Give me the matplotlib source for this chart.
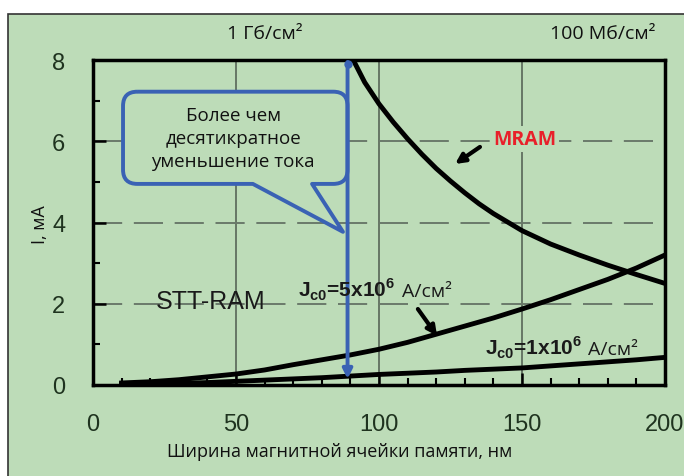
import matplotlib
matplotlib.use('Agg')
import matplotlib.pyplot as plt
from matplotlib.patches import Rectangle, PathPatch
from matplotlib.path import Path

# cell width, nm
width_mram = [91, 95, 100, 105, 110, 115, 120, 125, 130, 135, 140, 150, 160, 170, 180, 190, 200]
current_mram = [8.0, 7.45, 6.92, 6.47, 6.06, 5.68, 5.33, 5.02, 4.73, 4.46, 4.22, 3.8,
                3.47, 3.2, 2.95, 2.72, 2.5]

width_stt = [10, 20, 30, 40, 50, 60, 70, 80, 90, 100, 110, 120, 130, 140, 150, 160, 170, 180, 190, 200]
current_stt5 = [0.05, 0.08, 0.13, 0.2, 0.27, 0.37, 0.5, 0.62, 0.74, 0.88, 1.05, 1.25,
                1.45, 1.65, 1.87, 2.1, 2.35, 2.6, 2.88, 3.2]
current_stt1 = [0.02, 0.03, 0.04, 0.06, 0.09, 0.12, 0.15, 0.18, 0.22, 0.26, 0.29, 0.32,
                0.36, 0.39, 0.42, 0.47, 0.52, 0.57, 0.62, 0.68]

x_ticks = [0, 50, 100, 150, 200]
y_ticks = [0, 2, 4, 6, 8]
marker_x = 89

green = '#bddcb8'
blue = '#3a62b4'
label_color = '#1f331f'
ru_font = ['Open Sans', 'DejaVu Sans']
num_font = ['Liberation Sans Narrow', 'Liberation Sans', 'DejaVu Sans']

fig = plt.figure(figsize=(6.84, 4.77), dpi=100)
fig.patch.set_facecolor('white')
fig.patches.append(Rectangle((8 / 684, -0.01), 680 / 684, 1 - 15 / 477 + 0.01,
                             transform=fig.transFigure, facecolor=green,
                             edgecolor='#333333', lw=1.2, zorder=-10))

ax = fig.add_axes([93 / 684, 91 / 477, 572 / 684, 325 / 477])
ax.set_facecolor(green)

for v in [50, 100, 150]:
    ax.axvline(v, color='#5f6f5f', lw=1.3, zorder=1)
for h in [2, 4, 6]:
    ax.axhline(h, color='#6a7a6a', lw=1.4, dashes=(15, 6), zorder=1)

ax.plot(width_mram, current_mram, color='black', lw=3.5, zorder=3)
ax.plot(width_stt, current_stt5, color='black', lw=3.5, zorder=3)
ax.plot(width_stt, current_stt1, color='black', lw=3.5, zorder=3)

ax.set_xlim(0, 200)
ax.set_ylim(0, 8)
ax.set_xticks(x_ticks)
ax.set_yticks(y_ticks)
ax.set_xticks(range(10, 200, 10), minor=True)
ax.set_yticks([1, 3, 5, 7], minor=True)
ax.tick_params(which='major', direction='in', length=9, width=1.8, color='black',
               labelsize=17, labelcolor=label_color)
ax.tick_params(which='minor', direction='in', length=5, width=1.5, color='black')
ax.tick_params(axis='x', pad=20)
ax.tick_params(axis='y', pad=20)
for lab in ax.get_xticklabels() + ax.get_yticklabels():
    lab.set_family(num_font)
for sp in ax.spines.values():
    sp.set_linewidth(2.5)

ax.set_xlabel('Ширина магнитной ячейки памяти, нм', family=ru_font, fontsize=13,
              color='#111111')
ax.xaxis.set_label_coords((340 - 93) / 572, -(452 - 386) / 325)
ax.xaxis.label.set_va('center')
ax.set_ylabel('I, мА', family=ru_font, fontsize=13, color='#111111')
ax.yaxis.set_label_coords(-(93 - 40) / 572, (386 - 225) / 325)
ax.yaxis.label.set_va('center')

fig.text(265 / 684, 1 - 34 / 477, '1 Гб/см²', family=ru_font, fontsize=14,
         ha='center', va='center', color='#111111')
fig.text(603 / 684, 1 - 34 / 477, '100 Мб/см²', family=ru_font, fontsize=14,
         ha='center', va='center', color='#111111')

# speech bubble
x0, x1, y0, y1 = 10.5, marker_x, 4.95, 7.22
rx, ry = 5.0, 0.35
verts = [(x0 + rx, y1), (x1 - rx, y1), (x1, y1), (x1, y1 - ry), (x1, y0 + ry),
         (x1, y0), (x1 - rx, y0), (76.6, y0), (87.4, 3.77), (55.9, y0),
         (x0 + rx, y0), (x0, y0), (x0, y0 + ry), (x0, y1 - ry), (x0, y1), (x0 + rx, y1)]
codes = [Path.MOVETO, Path.LINETO, Path.CURVE3, Path.CURVE3, Path.LINETO,
         Path.CURVE3, Path.CURVE3, Path.LINETO, Path.LINETO, Path.LINETO,
         Path.LINETO, Path.CURVE3, Path.CURVE3, Path.LINETO, Path.CURVE3, Path.CURVE3]
ax.add_patch(PathPatch(Path(verts, codes), facecolor=green, edgecolor=blue, lw=2.8,
                       zorder=4, joinstyle='round'))
ax.text(49, 6.08, 'Более чем\nдесятикратное\nуменьшение тока', family=ru_font,
        fontsize=13.5, ha='center', va='center', linespacing=1.35, color='#111111', zorder=5)

ax.annotate('', xy=(marker_x, 0.15), xytext=(marker_x, 7.95),
            arrowprops=dict(arrowstyle='-|>', color=blue, lw=2.8, mutation_scale=14,
                            shrinkA=0, shrinkB=0), zorder=6)
ax.plot([marker_x], [7.9], 'o', color=blue, ms=5, zorder=6)

ax.text(41, 2.07, 'STT-RAM', family='Liberation Sans', fontsize=18, ha='center',
        va='center', color='#1a1a1a', zorder=5)
ax.text(71.7, 2.19, r'J$_{\mathregular{c0}}$=5x10$^{\mathregular{6}}$', family='Liberation Sans',
        fontsize=15, fontweight='bold', ha='left', va='baseline', color='#1a1a1a', zorder=7)
ax.text(108, 2.19, 'А/см²', family=ru_font, fontsize=14, ha='left', va='baseline',
        color='#1a1a1a', zorder=7)
ax.text(137, 0.76, r'J$_{\mathregular{c0}}$=1x10$^{\mathregular{6}}$', family='Liberation Sans',
        fontsize=15, fontweight='bold', ha='left', va='baseline', color='#1a1a1a', zorder=7)
ax.text(173, 0.76, 'А/см²', family=ru_font, fontsize=14, ha='left', va='baseline',
        color='#1a1a1a', zorder=7)
ax.text(151, 6.06, 'MRAM', family=ru_font, fontsize=14, fontweight='bold', ha='center',
        va='center', color='#e8202a', zorder=7,
        bbox=dict(facecolor=green, edgecolor='none', pad=2))

ax.annotate('', xy=(126.6, 5.44), xytext=(135.3, 5.86),
            arrowprops=dict(arrowstyle='-|>', color='black', lw=3, mutation_scale=14,
                            shrinkA=0, shrinkB=0))
ax.annotate('', xy=(120.3, 1.21), xytext=(113.6, 1.87),
            arrowprops=dict(arrowstyle='-|>', color='black', lw=3, mutation_scale=14,
                            shrinkA=0, shrinkB=0))

fig.savefig('out.png', dpi=100, facecolor=fig.get_facecolor())
